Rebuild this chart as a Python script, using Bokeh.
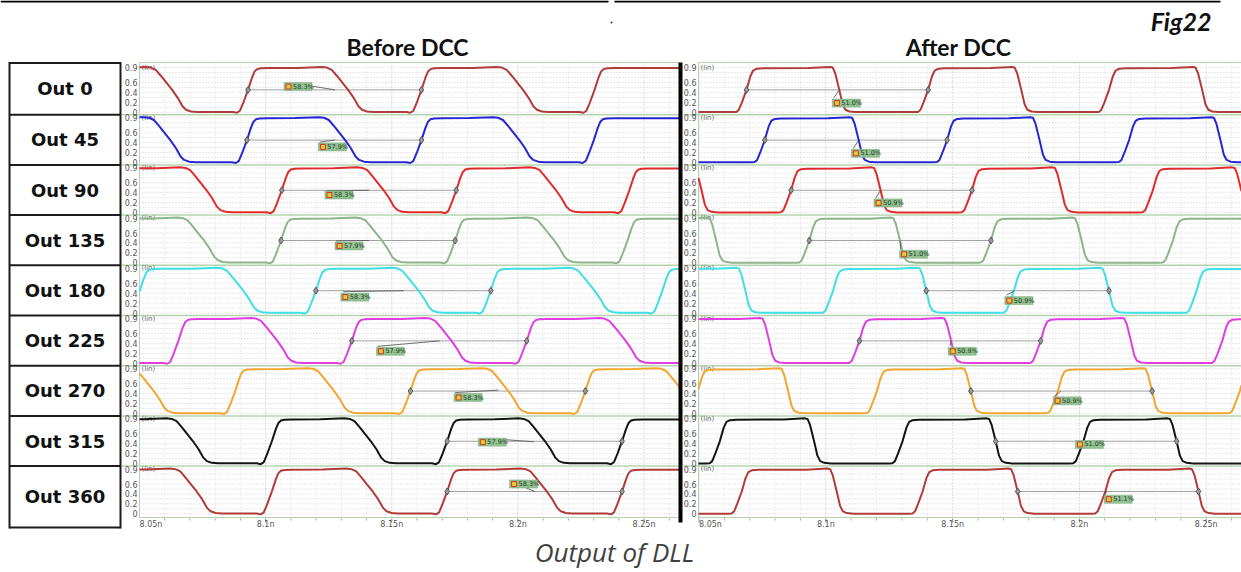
from bokeh.plotting import figure
from bokeh.models import Range1d
from bokeh.core.properties import value
from bokeh.embed import file_html
from bokeh.resources import INLINE

# ---------------------------------------------------------------- data
row_labels = ["Out 0", "Out 45", "Out 90", "Out 135", "Out 180",
              "Out 225", "Out 270", "Out 315", "Out 360"]
panel_titles = ["Before DCC", "After DCC"]
figure_tag = "Fig22"
caption_text = "Output of DLL"
x_ticks = [8.05, 8.1, 8.15, 8.2, 8.25]
x_tick_labels = ["8.05n", "8.1n", "8.15n", "8.2n", "8.25n"]
y_ticks = [0.0, 0.2, 0.4, 0.6, 0.9]
y_tick_labels = ["0", "0.2", "0.4", "0.6", "0.9"]

# 0.45 V crossing times (ns) of rising / falling edges, one list per row
before_rise = [
    [8.09302, 8.16177, 8.23038],
    [8.09259, 8.16177, 8.23009],
    [8.10640, 8.17558, 8.24419],
    [8.10610, 8.17515, 8.24346],
    [8.05015, 8.11991, 8.18924, 8.25727],
    [8.06541, 8.13416, 8.20349],
    [8.08794, 8.15741, 8.22674],
    [8.10247, 8.17195, 8.24128],
    [8.10247, 8.17195, 8.24128],
]
before_fall = [
    [8.06294, 8.13270, 8.20203],
    [8.06221, 8.13154, 8.20058],
    [8.07660, 8.14680, 8.21512],
    [8.07558, 8.14608, 8.21439],
    [8.09113, 8.16061, 8.23038],
    [8.10465, 8.17369, 8.24273],
    [8.05567, 8.12718, 8.19622, 8.26526],
    [8.07122, 8.14172, 8.21076],
    [8.07267, 8.14244, 8.21148],
]
before_marks = [
    [8.09302, 8.16177], [8.09259, 8.16177], [8.10640, 8.17558],
    [8.10610, 8.17515], [8.11991, 8.18924], [8.13416, 8.20349],
    [8.15741, 8.22674], [8.17195, 8.24128], [8.17195, 8.24128],
]
before_duty = ["58.3%", "57.9%", "58.3%", "57.9%", "58.3%",
               "57.9%", "58.3%", "57.9%", "58.3%"]

after_rise = [
    [8.06873, 8.14035, 8.21167],
    [8.07594, 8.14784, 8.21960],
    [8.08631, 8.15764, 8.22896],
    [8.09352, 8.16513, 8.23689],
    [8.10288, 8.17421, 8.24625],
    [8.11326, 8.18473, 8.25634],
    [8.04957, 8.12017, 8.19150, 8.26326],
    [8.05821, 8.13026, 8.20159],
    [8.06686, 8.13818, 8.21023],
]
after_fall = [
    [8.10533, 8.17709, 8.24841],
    [8.11297, 8.18429, 8.25562],
    [8.05101, 8.12161, 8.19294, 8.26383],
    [8.05677, 8.12925, 8.20086],
    [8.06830, 8.13963, 8.21167],
    [8.07767, 8.14942, 8.22032],
    [8.08516, 8.15720, 8.22867],
    [8.09539, 8.16700, 8.23833],
    [8.10432, 8.17565, 8.24697],
]
after_marks = [
    [8.06873, 8.14035], [8.07594, 8.14784], [8.08631, 8.15764],
    [8.09352, 8.16513], [8.13963, 8.21167], [8.11326, 8.18473],
    [8.15720, 8.22867], [8.16700, 8.23833], [8.17565, 8.24697],
]
after_duty = ["51.0%", "51.0%", "50.9%", "51.0%", "50.9%",
              "50.9%", "50.9%", "51.0%", "51.1%"]

# ---------------------------------------------------------------- styles
row_colors = ["#b03c3a", "#2626d2", "#e22a2a", "#8db58a", "#3fdfe6",
              "#df3fdf", "#f2a630", "#141414", "#b03c3a"]

# edge shapes: (offset in ps from the 0.45 V crossing, volts)
rise_before = [(-6.0, 0.005), (-4.4, -0.012), (-3.2, 0.03), (-1.8, 0.2), (0.0, 0.45),
               (1.6, 0.7), (2.6, 0.82), (3.6, 0.868), (5.0, 0.885), (8.0, 0.89)]
fall_before = [(-20.0, 0.893), (-10.5, 0.912), (-8.4, 0.9), (-6.5, 0.855), (-4.4, 0.73),
               (-2.2, 0.59), (0.0, 0.45), (2.2, 0.29), (4.1, 0.12), (5.5, 0.05),
               (7.5, 0.015), (10.0, 0.005)]
rise_after = [(-5.5, 0.003), (-4.0, 0.006), (-3.0, 0.05), (-1.8, 0.2), (0.0, 0.45),
              (1.5, 0.72), (2.6, 0.84), (4.0, 0.876), (6.5, 0.886)]
fall_after = [(-12.0, 0.89), (-3.6, 0.912), (-2.6, 0.9), (-1.6, 0.78), (0.0, 0.45),
              (1.3, 0.16), (2.4, 0.05), (4.0, 0.015), (6.5, 0.003)]

# annotation placement (box left time, box centre volts) and leader lines
before_box = [(8.1073, 0.516), (8.1209, 0.313), (8.1235, 0.355), (8.1275, 0.34),
              (8.1298, 0.32), (8.1439, 0.24), (8.1747, 0.32), (8.1843, 0.433),
              (8.1967, 0.60)]
before_lead = [((8.1185, 0.525), (8.1275, 0.45)), ((8.1214, 0.41), (8.1275, 0.45)),
               ((8.1243, 0.44), (8.141, 0.45)), ((8.1279, 0.44), (8.141, 0.45)),
               ((8.1308, 0.43), (8.1548, 0.45)), ((8.1443, 0.34), (8.169, 0.45)),
               ((8.1751, 0.42), (8.1923, 0.47)), ((8.1955, 0.48), (8.2064, 0.44)),
               ((8.1977, 0.64), (8.2067, 0.45))]
after_box = [(8.10259, 0.184), (8.11009, 0.183), (8.11902, 0.196), (8.12911, 0.173),
             (8.17061, 0.25), (8.14827, 0.24), (8.18963, 0.254), (8.19842, 0.386),
             (8.20980, 0.293)]
after_lead = [((8.1032, 0.29), (8.1053, 0.45)), ((8.1108, 0.277), (8.1130, 0.45)),
              ((8.1197, 0.29), (8.1216, 0.45)), ((8.1295, 0.27), (8.1293, 0.45)),
              ((8.1713, 0.36), (8.1745, 0.45)), ((8.1490, 0.35), (8.1494, 0.45)),
              ((8.1901, 0.34), (8.1927, 0.45)), ((8.1990, 0.43), (8.2016, 0.45)),
              ((8.2102, 0.39), (8.2107, 0.46))]

# ---------------------------------------------------------------- geometry (page px)
PAGE_W, PAGE_H = 1241, 572
ROW_TOP, FRAME_BOTTOM = 62, 518
ZERO0, ROW_PITCH, U = 111.7, 50.2, 49.6
NROW = len(row_labels)
H = ROW_PITCH / U
bases = [(NROW - 1 - r) * H for r in range(NROW)]

AX_FONT = "DejaVu Sans"
GREEN = "#b4d4ae"

p = figure(width=PAGE_W, height=PAGE_H, x_range=Range1d(0, PAGE_W), y_range=Range1d(PAGE_H, 0),
           min_border=0, x_axis_location=None, y_axis_location=None, toolbar_location=None,
           output_backend="svg", outline_line_color=None,
           background_fill_color="white", border_fill_color="white")
p.grid.visible = False

panels = [
    dict(name="L", plot_l=139, plot_r=679, sep_l=121, sep_r=679, ppn=2522.7, t_at_l=8.05,
         lab_x=137, rises=before_rise, falls=before_fall, marks=before_marks, duty=before_duty,
         rprof=rise_before, fprof=fall_before, boxes=before_box, leads=before_lead),
    dict(name="R", plot_l=698, plot_r=1241, sep_l=683, sep_r=1241, ppn=2536.0,
         t_at_l=8.05 - 0.5 / 2536.0,
         lab_x=696, rises=after_rise, falls=after_fall, marks=after_marks, duty=after_duty,
         rprof=rise_after, fprof=fall_after, boxes=after_box, leads=after_lead),
]

extra_x = {}
for pn in panels:
    t0 = pn["t_at_l"] - pn["plot_l"] / pn["ppn"]
    extra_x[pn["name"]] = Range1d(t0, t0 + PAGE_W / pn["ppn"])
p.extra_x_ranges = extra_x
p.extra_y_ranges = {"V": Range1d(bases[0] - (PAGE_H - ZERO0) / U, bases[0] + ZERO0 / U)}


def build_wave(rises, falls, rprof, fprof, t0, t1):
    edges = sorted([(t, rprof) for t in rises] + [(t, fprof) for t in falls])
    xs = [t0]
    ys = [edges[0][1][0][1]]
    for t, prof in edges:
        for dt, v in prof:
            xs.append(t + dt * 1e-3)
            ys.append(v)
    xs.append(t1)
    ys.append(edges[-1][1][-1][1])
    return xs, ys


def clip_line(xs, ys, lo, hi):
    ox, oy = [], []
    for i in range(len(xs)):
        x, y = xs[i], ys[i]
        if lo <= x <= hi:
            if i > 0 and xs[i - 1] < lo:
                f = (lo - xs[i - 1]) / (x - xs[i - 1])
                ox.append(lo)
                oy.append(ys[i - 1] + f * (y - ys[i - 1]))
            ox.append(x)
            oy.append(y)
            if i + 1 < len(xs) and xs[i + 1] > hi:
                f = (hi - x) / (xs[i + 1] - x)
                ox.append(hi)
                oy.append(y + f * (ys[i + 1] - y))
    return ox, oy


for pn in panels:
    xr, ppn = pn["name"], pn["ppn"]
    t_lo = pn["t_at_l"]
    t_hi = t_lo + (pn["plot_r"] - pn["plot_l"]) / ppn
    L, R = pn["plot_l"], pn["plot_r"]

    # horizontal dotted grid
    gy = [b + 0.1 * k for b in bases for k in range(10)]
    p.segment(x0=[L] * len(gy), y0=gy, x1=[R] * len(gy), y1=gy, y_range_name="V",
              line_color="#d0d0d0", line_width=1, line_dash="1 2")
    # vertical dotted grid (minor every 0.01 ns, major at labelled ticks)
    minors = [round(8.05 + 0.01 * k, 3) for k in range(22)]
    minors = [t for t in minors if t_lo < t < t_hi and t not in x_ticks]
    p.segment(x0=minors, y0=[ROW_TOP] * len(minors), x1=minors, y1=[FRAME_BOTTOM] * len(minors),
              x_range_name=xr, line_color="#dcdcdc", line_width=1, line_dash="1 2")
    majors = [t for t in x_ticks if t_lo < t < t_hi]
    p.segment(x0=majors, y0=[ROW_TOP] * len(majors), x1=majors, y1=[FRAME_BOTTOM] * len(majors),
              x_range_name=xr, line_color="#bdbdbd", line_width=1, line_dash="1 2")

    # row separators and frame
    sep = [b - 2.5 / U for b in bases[:-1]]
    p.segment(x0=[pn["sep_l"]] * len(sep), y0=sep, x1=[pn["sep_r"]] * len(sep), y1=sep,
              y_range_name="V", line_color=GREEN, line_width=1.5)
    p.segment(x0=[L, L, L], y0=[ROW_TOP, ROW_TOP, FRAME_BOTTOM - 1],
              x1=[L, R, R], y1=[FRAME_BOTTOM, ROW_TOP, FRAME_BOTTOM - 1],
              line_color=GREEN, line_width=1)

    # y tick labels and "(lin)" tags
    yv, yl = [], []
    for b in bases:
        for v, s in zip(y_ticks, y_tick_labels):
            yv.append(b + v)
            yl.append(s)
    p.text(x=[pn["lab_x"]] * len(yv), y=yv, text=yl, y_range_name="V",
           text_font=value(AX_FONT), text_font_size="8px", text_color="#555555",
           text_align="right", text_baseline="middle")
    p.text(x=[L + 2] * NROW, y=[b + 0.9 for b in bases], text=["(lin)"] * NROW,
           y_range_name="V", text_font=value(AX_FONT), text_font_size="7px",
           text_color="#6a6a6a", text_align="left", text_baseline="middle")

    # x axis: ticks and labels
    p.segment(x0=majors, y0=[FRAME_BOTTOM] * len(majors), x1=majors, y1=[FRAME_BOTTOM + 4] * len(majors),
              x_range_name=xr, line_color="#8a8a8a", line_width=1)
    p.segment(x0=minors, y0=[FRAME_BOTTOM] * len(minors), x1=minors, y1=[FRAME_BOTTOM + 2] * len(minors),
              x_range_name=xr, line_color="#a0a0a0", line_width=1)
    p.text(x=x_ticks[:1], y=[524], text=x_tick_labels[:1], x_range_name=xr,
           text_font=value(AX_FONT), text_font_size="8px", text_color="#555555",
           text_align="left", text_baseline="middle")
    p.text(x=x_ticks[1:], y=[524] * (len(x_ticks) - 1), text=x_tick_labels[1:], x_range_name=xr,
           text_font=value(AX_FONT), text_font_size="8px", text_color="#555555",
           text_align="center", text_baseline="middle")

    # measurement level line between the two markers
    marks = pn["marks"]
    p.segment(x0=[m[0] for m in marks], y0=[b + 0.45 for b in bases],
              x1=[m[1] for m in marks], y1=[b + 0.45 for b in bases],
              x_range_name=xr, y_range_name="V", line_color="#a0a0a0", line_width=1)

    # traces
    xs_all, ys_all = [], []
    for r in range(NROW):
        xs, ys = build_wave(pn["rises"][r], pn["falls"][r], pn["rprof"], pn["fprof"], 8.03, 8.28)
        xs, ys = clip_line(xs, ys, t_lo, t_hi)
        xs_all.append(xs)
        ys_all.append([y + bases[r] for y in ys])
    p.multi_line(xs=xs_all, ys=ys_all, line_color=row_colors, line_width=2,
                 x_range_name=xr, y_range_name="V")

    # markers
    mx, my = [], []
    for r, m in enumerate(marks):
        for t in m:
            mx.append(t)
            my.append(bases[r] + 0.45)
    p.scatter(x=mx, y=my, marker="diamond", size=7, fill_color="#9a9a9a",
              line_color="#555555", line_width=1, x_range_name=xr, y_range_name="V")

    # leader lines
    leads = pn["leads"]
    p.segment(x0=[l[0][0] for l in leads], y0=[bases[r] + leads[r][0][1] for r in range(NROW)],
              x1=[l[1][0] for l in leads], y1=[bases[r] + leads[r][1][1] for r in range(NROW)],
              x_range_name=xr, y_range_name="V", line_color="#4a4a4a", line_width=0.8)

    # duty-cycle boxes
    boxes = pn["boxes"]
    by = [bases[r] + boxes[r][1] for r in range(NROW)]
    p.rect(x=[t + 14 / ppn for t, v in boxes], y=by, width=28, height=8,
           width_units="screen", height_units="screen", x_range_name=xr, y_range_name="V",
           fill_color="#93c293", line_color="#78a878", line_width=0.5)
    p.scatter(x=[t + 4.5 / ppn for t, v in boxes], y=by, marker="square", size=5,
              fill_color="#f4c430", line_color="#c0392b", line_width=1,
              x_range_name=xr, y_range_name="V")
    p.text(x=[t + 9 / ppn for t, v in boxes], y=by, text=pn["duty"],
           x_range_name=xr, y_range_name="V",
           text_font=value(AX_FONT), text_font_size="6.5px", text_color="#1e3a1e",
           text_align="left", text_baseline="middle")

# black separator between the panels
p.quad(left=[678], right=[682], top=[ROW_TOP], bottom=[522], fill_color="black", line_color=None)

# label table
bounds = [62.5] + [ZERO0 + 2.5 + ROW_PITCH * k for k in range(NROW - 1)] + [527]
p.segment(x0=[9] * len(bounds), y0=bounds, x1=[120] * len(bounds), y1=bounds,
          line_color="#1c1c1c", line_width=2)
p.segment(x0=[9, 120], y0=[61.5, 61.5], x1=[9, 120], y1=[528, 528],
          line_color="#1c1c1c", line_width=2)
mids = [(bounds[i] + bounds[i + 1]) / 2 for i in range(NROW)]
p.text(x=[64.5] * NROW, y=mids, text=row_labels, text_font=value("DejaVu Sans"),
       text_font_style="bold", text_font_size="18px", text_color="#111111",
       text_align="center", text_baseline="middle")

# header
p.segment(x0=[0, 614], y0=[1, 1], x1=[608, 1220], y1=[1, 1], line_color="black", line_width=2)
p.scatter(x=[611], y=[22], size=2, marker="circle", fill_color="#333333", line_color=None)
p.text(x=[407, 958], y=[46.5, 46.5], text=panel_titles, text_font=value("Lato"),
       text_font_style="bold", text_font_size="23px", text_color="#111111",
       text_align="center", text_baseline="middle")
p.text(x=[1211], y=[20.5], text=[figure_tag], text_font=value("Lato"),
       text_font_style="bold italic", text_font_size="25px", text_color="#111111",
       text_align="right", text_baseline="middle")

# caption
p.text(x=[614], y=[551], text=[caption_text], text_font=value("Open Sans"),
       text_font_style="italic", text_font_size="26px", text_color="#404040",
       text_align="center", text_baseline="middle")

open("out.html", "w").write(file_html(p, INLINE))
